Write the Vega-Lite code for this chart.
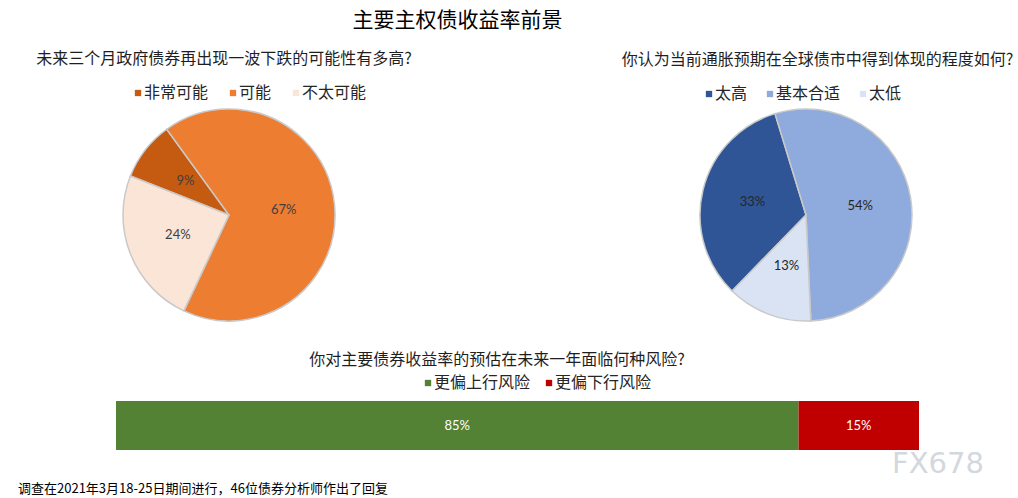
{
  "$schema": "https://vega.github.io/schema/vega-lite/v6.json",
  "background": "white",
  "padding": {"left": 18, "top": 10, "right": 5, "bottom": 2},
  "spacing": 28,
  "resolve": {"scale": {"color": "independent", "theta": "independent"}, "legend": {"color": "independent"}},
  "config": {
    "view": {"stroke": null},
    "font": "Noto Sans CJK SC",
    "title": {"font": "Noto Sans CJK SC", "fontWeight": "normal", "color": "#1f1f1f"},
    "legend": {
      "labelFont": "Noto Sans CJK SC",
      "labelFontSize": 16,
      "labelColor": "#262626",
      "symbolType": "square",
      "symbolSize": 40,
      "symbolStrokeWidth": 0,
      "labelOffset": -2,
      "padding": 0,
      "direction": "horizontal",
      "title": null
    }
  },
  "title": {
    "text": "调查在2021年3月18-25日期间进行，46位债券分析师作出了回复",
    "orient": "bottom",
    "anchor": "start",
    "frame": "group",
    "align": "left",
    "dx": -98,
    "fontSize": 13,
    "color": "#000000",
    "offset": 4
  },
  "vconcat": [
    {
      "bounds": "flush",
      "spacing": 358,
      "resolve": {"scale": {"color": "independent", "theta": "independent"}, "legend": {"color": "independent"}},
      "title": {
        "text": "主要主权债收益率前景",
        "anchor": "start",
        "frame": "group",
        "align": "center",
        "dx": 341.5,
        "fontSize": 21,
        "color": "#000000",
        "offset": 20
      },
      "hconcat": [
        {
          "width": 226,
          "height": 212,
          "title": {
            "text": "未来三个月政府债券再出现一波下跌的可能性有多高?",
            "anchor": "start",
            "frame": "group",
            "align": "center",
            "dx": 108,
            "fontSize": 16,
            "offset": 18
          },
          "data": {
            "values": [
              {"category": "非常可能", "value": 0.09},
              {"category": "可能", "value": 0.67},
              {"category": "不太可能", "value": 0.24}
            ]
          },
          "encoding": {
            "theta": {"field": "value", "type": "quantitative", "stack": true, "scale": {"range": [-1.1938, 5.0894]}},
            "order": {"field": "category", "sort": "descending"},
            "color": {
              "field": "category",
              "type": "nominal",
              "scale": {"domain": ["非常可能", "可能", "不太可能"], "range": ["#C55A11", "#ED7D31", "#FBE5D6"]},
              "legend": {"orient": "none", "legendX": 14, "legendY": -24, "columnPadding": 16}
            }
          },
          "layer": [
            {"mark": {"type": "arc", "stroke": "#c9c9c9", "strokeWidth": 1.5}},
            {
              "mark": {"type": "text", "radius": 55, "fontSize": 13, "font": "Lato", "fill": "#404040"},
              "encoding": {"text": {"field": "value", "type": "quantitative", "format": ".0%"}}
            }
          ]
        },
        {
          "width": 212,
          "height": 212,
          "title": {
            "text": "你认为当前通胀预期在全球债市中得到体现的程度如何?",
            "anchor": "start",
            "frame": "group",
            "align": "center",
            "dx": 117.5,
            "fontSize": 16,
            "offset": 18
          },
          "data": {
            "values": [
              {"category": "太高", "value": 0.33},
              {"category": "基本合适", "value": 0.54},
              {"category": "太低", "value": 0.13}
            ]
          },
          "encoding": {
            "theta": {"field": "value", "type": "quantitative", "stack": true, "scale": {"range": [-0.2967, 5.9865]}},
            "order": {"field": "category", "sort": "ascending"},
            "color": {
              "field": "category",
              "type": "nominal",
              "scale": {"domain": ["太高", "基本合适", "太低"], "range": ["#2F5597", "#8FAADC", "#DAE3F3"]},
              "legend": {"orient": "none", "legendX": 1, "legendY": -23, "columnPadding": 14}
            }
          },
          "layer": [
            {"mark": {"type": "arc", "stroke": "#c9c9c9", "strokeWidth": 1.5}},
            {
              "mark": {"type": "text", "radius": 55, "fontSize": 13, "font": "Lato", "fill": "#262626"},
              "encoding": {"text": {"field": "value", "type": "quantitative", "format": ".0%"}}
            }
          ]
        }
      ]
    },
    {
      "bounds": "flush",
      "title": {
        "text": "FX678",
        "orient": "bottom",
        "anchor": "start",
        "frame": "group",
        "align": "left",
        "dx": 776,
        "font": "DejaVu Sans",
        "fontSize": 29,
        "color": "#d3d7de",
        "offset": 0
      },
      "vconcat": [
        {
          "width": 803,
          "height": 49,
          "title": {
            "text": "你对主要债券收益率的预估在未来一年面临何种风险?",
            "anchor": "start",
            "frame": "group",
            "align": "center",
            "dx": 381,
            "fontSize": 16,
            "offset": 33
          },
          "data": {
            "values": [
              {"risk": "更偏上行风险", "share": 0.85, "row": "全部"},
              {"risk": "更偏下行风险", "share": 0.15, "row": "全部"}
            ]
          },
          "transform": [
            {"stack": "share", "groupby": ["row"], "sort": [{"field": "risk", "order": "ascending"}], "as": ["s0", "s1"]},
            {"calculate": "(datum.s0 + datum.s1) / 2", "as": "mid"}
          ],
          "encoding": {
            "y": {"field": "row", "type": "nominal", "axis": null, "scale": {"paddingInner": 0, "paddingOuter": 0}}
          },
          "layer": [
            {
              "mark": {"type": "bar"},
              "encoding": {
                "x": {"field": "s0", "type": "quantitative", "axis": null, "scale": {"domain": [0, 1], "nice": false}},
                "x2": {"field": "s1"},
                "color": {
                  "field": "risk",
                  "type": "nominal",
                  "scale": {"domain": ["更偏上行风险", "更偏下行风险"], "range": ["#548235", "#C00000"]},
                  "legend": {"orient": "none", "legendX": 304, "legendY": -26, "columnPadding": 10}
                }
              }
            },
            {
              "mark": {"type": "text", "font": "Lato", "fontSize": 13, "fill": "#ffffff"},
              "encoding": {
                "x": {"field": "mid", "type": "quantitative"},
                "text": {"field": "share", "type": "quantitative", "format": ".0%"}
              }
            }
          ]
        }
      ]
    }
  ]
}
